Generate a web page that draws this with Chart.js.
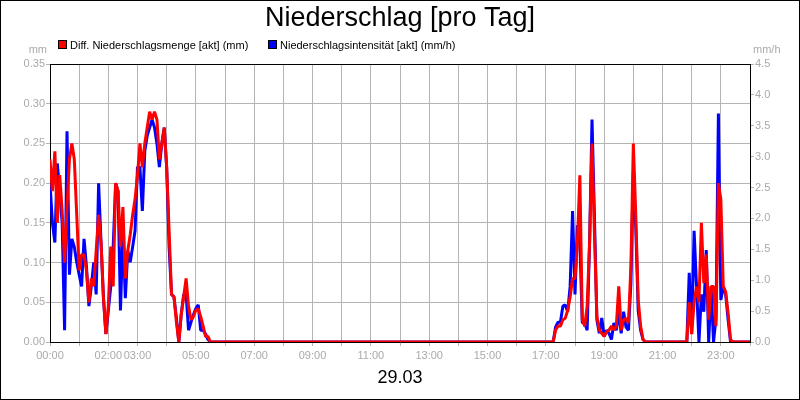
<!DOCTYPE html>
<html>
<head>
<meta charset="utf-8">
<script src="https://cdn.jsdelivr.net/npm/chart.js@4.4.0/dist/chart.umd.min.js"></script>
<style>
  html, body { margin: 0; padding: 0; background: #fff; }
  canvas { display: block; }
</style>
</head>
<body>
<canvas id="myChart" width="800" height="400"></canvas>
<script>
	// 5-Minuten-Werte, nur die Abschnitte mit Niederschlag (sonst 0)
	const stepMin = 5;
	const morningStart = 0;     // 00:00
	const eveningStart = 1035;  // 17:15
	const lateStart = 1310;     // 21:50
	const dayEnd = 1440;        // 24:00

	// Diff. Niederschlagsmenge (mm)
	const redMorning = [
		0.23, 0.19, 0.24, 0.15, 0.21, 0.165, 0.10, 0.17, 0.23, 0.25,
		0.23, 0.16, 0.09, 0.11, 0.11, 0.09, 0.05, 0.08, 0.07, 0.115,
		0.16, 0.125, 0.055, 0.01, 0.045, 0.12, 0.07, 0.20, 0.19, 0.12,
		0.17, 0.08, 0.115, 0.135, 0.16, 0.18, 0.21, 0.25, 0.22, 0.25,
		0.27, 0.29, 0.28, 0.29, 0.28, 0.23, 0.25, 0.27, 0.22, 0.14,
		0.06, 0.057, 0.025, 0, 0.035, 0.057, 0.08, 0.045, 0.028, 0.032,
		0.04, 0.042, 0.032, 0.02, 0.007, 0.007, 0
	];
	const redEvening = [
		0, 0.015, 0.02, 0.02, 0.028, 0.03, 0.04, 0.057, 0.08, 0.08,
		0.125, 0.21, 0.028, 0.02, 0.045, 0.125, 0.25, 0.137, 0.032, 0.015,
		0.011, 0.007, 0.013, 0.015, 0.02, 0.015, 0.02, 0.07, 0.015, 0.028,
		0.03, 0.024, 0.095, 0.25, 0.16, 0.053, 0.02, 0.003, 0
	];
	const redLate = [
		0, 0.05, 0.01, 0.05, 0.07, 0.05, 0.15, 0.074, 0.11, 0.028,
		0.07, 0.07, 0.02, 0.20, 0.18, 0.07, 0.063, 0.036, 0.003, 0
	];

	// Niederschlagsintensität (mm/h)
	const blueMorning = [
		2.57, 1.93, 1.61, 2.89, 2.44, 1.93, 0.19, 3.41, 1.09, 1.67,
		1.54, 1.29, 1.09, 0.90, 1.67, 1.22, 0.58, 0.90, 1.29, 0.77,
		2.57, 1.61, 0.71, 0.13, 0.51, 0.90, 1.54, 2.57, 2.44, 0.51,
		1.80, 0.71, 1.48, 1.29, 1.54, 1.80, 2.83, 2.83, 2.12, 3.09,
		3.34, 3.47, 3.60, 3.47, 3.21, 2.83, 3.21, 3.47, 2.83, 1.54,
		0.77, 0.73, 0.39, 0, 0.45, 0.77, 0.77, 0.19, 0.32, 0.44,
		0.54, 0.60, 0.19, 0.19, 0.13, 0.04, 0
	];
	const blueEvening = [
		0, 0.24, 0.32, 0.32, 0.58, 0.60, 0.49, 0.90, 2.12, 0.77,
		1.89, 1.61, 0.31, 0.31, 0.19, 1.61, 3.60, 2.03, 0.36, 0.14,
		0.39, 0.09, 0.19, 0.14, 0.04, 0.31, 0.19, 0.49, 0.14, 0.49,
		0.24, 0.19, 0.95, 2.76, 1.86, 0.51, 0.19, 0.04, 0
	];
	const blueLate = [
		0, 1.12, 0.13, 1.80, 0.90, 0, 0.77, 0.49, 1.49, 0,
		0.90, 0, 0.39, 3.70, 0.68, 0.90, 0.77, 0.36, 0, 0
	];

	// Stunden mit Beschriftung an der x-Achse
	const labelledHours = [0, 2, 3, 5, 7, 9, 11, 13, 15, 17, 19, 21, 23];
	const dateLabel = "29.03";
	const leftUnit = "mm";
	const rightUnit = "mm/h";

	const FONT = '"Liberation Sans", Arial, sans-serif';
	const GRID = '#b4b4b4';
	const TICK_TXT = '#aaaaaa';

	// Abschnitt -> Punkte {x: Minute, y: Wert}
	function toPoints(start, values) {
		return values.map((v, k) => ({ x: start + k * stepMin, y: v }));
	}
	const redData = [
		...toPoints(morningStart, redMorning),
		...toPoints(eveningStart, redEvening),
		...toPoints(lateStart, redLate),
		{ x: dayEnd, y: 0 }
	];
	const blueData = [
		...toPoints(morningStart, blueMorning),
		...toPoints(eveningStart, blueEvening),
		...toPoints(lateStart, blueLate),
		{ x: dayEnd, y: 0 }
	];

	// Rahmen, Einheiten, Legende
	const framePlugin = {
		id: 'frame',
		beforeDatasetsDraw(chart) {
			const { ctx, chartArea } = chart;
			ctx.save();
			ctx.strokeStyle = '#000';
			ctx.lineWidth = 1;
			ctx.beginPath();
			const y = Math.round(chartArea.top) + 0.5;
			ctx.moveTo(Math.round(chartArea.left), y);
			ctx.lineTo(Math.round(chartArea.right) + 1, y);
			ctx.stroke();
			ctx.restore();
		},
		afterDraw(chart) {
			const { ctx } = chart;
			ctx.save();
			// Einheiten
			ctx.font = '11px ' + FONT;
			ctx.fillStyle = TICK_TXT;
			ctx.textBaseline = 'alphabetic';
			ctx.textAlign = 'right';
			ctx.fillText(leftUnit, 47, 53);
			ctx.textAlign = 'left';
			ctx.fillText(rightUnit, 753, 53);
			// Legende
			const boxX = [58, 268];
			chart.data.datasets.forEach((ds, i) => {
				ctx.fillStyle = ds.borderColor;
				ctx.fillRect(boxX[i] + 0.5, 40.5, 8, 8);
				ctx.strokeStyle = '#000';
				ctx.lineWidth = 1;
				ctx.strokeRect(boxX[i] + 0.5, 40.5, 8, 8);
				ctx.fillStyle = '#000';
				ctx.textAlign = 'left';
				ctx.textBaseline = 'alphabetic';
				ctx.fillText(ds.label, boxX[i] + 12, 49);
			});
			// äußerer Rahmen
			ctx.strokeStyle = '#000';
			ctx.lineWidth = 1;
			ctx.strokeRect(0.5, 0.5, 799, 399);
			ctx.restore();
		}
	};

	const ctx = document.querySelector('#myChart');
	const nsChart = new Chart(ctx, {
		type: 'line',
		data: {
			datasets: [
				{
					label: 'Diff. Niederschlagsmenge [akt] (mm)',
					data: redData,
					borderColor: '#ff0000',
					backgroundColor: '#ff0000',
					borderWidth: 3,
					borderJoinStyle: 'bevel',
					pointRadius: 0,
					tension: 0,
					yAxisID: 'y'
				},
				{
					label: 'Niederschlagsintensität [akt] (mm/h)',
					data: blueData,
					borderColor: '#0000ff',
					backgroundColor: '#0000ff',
					borderWidth: 3,
					borderJoinStyle: 'bevel',
					pointRadius: 0,
					tension: 0,
					yAxisID: 'y1'
				}
			]
		},
		options: {
			responsive: false,
			animation: false,
			devicePixelRatio: 1,
			layout: { padding: 0 },
			plugins: {
				legend: { display: false },
				tooltip: { enabled: false },
				title: {
					display: true,
					text: 'Niederschlag [pro Tag]',
					color: '#000',
					font: { family: FONT, size: 27, weight: 'normal' },
					padding: { top: 2, bottom: 29.6 }
				}
			},
			scales: {
				x: {
					type: 'linear',
					min: 0,
					max: dayEnd,
					ticks: {
						stepSize: 60,
						autoSkip: false,
						maxRotation: 0,
						color: TICK_TXT,
						font: { family: FONT, size: 11 },
						padding: 3,
						callback: (v) => {
							const h = v / 60;
							if (!labelledHours.includes(h)) return '';
							return String(h).padStart(2, '0') + ':00';
						}
					},
					grid: { color: GRID, tickLength: 4 },
					border: { color: '#000', width: 1 },
					title: {
						display: true,
						text: dateLabel,
						color: '#000',
						font: { family: FONT, size: 18 },
						padding: { top: 0, bottom: 11 }
					},
					afterFit: (s) => { s.height = 58; }
				},
				y: {
					position: 'left',
					min: 0,
					max: 0.35,
					ticks: {
						stepSize: 0.05,
						color: TICK_TXT,
						font: { family: FONT, size: 11 },
						padding: 1,
						callback: (v) => v.toFixed(2)
					},
					grid: { color: GRID, tickLength: 4 },
					border: { color: '#000', width: 1 },
					afterFit: (s) => { s.width = 50; }
				},
				y1: {
					position: 'right',
					min: 0,
					max: 4.5,
					ticks: {
						stepSize: 0.5,
						color: TICK_TXT,
						font: { family: FONT, size: 11 },
						padding: 1,
						callback: (v) => v.toFixed(1)
					},
					grid: { color: GRID, tickLength: 4, drawOnChartArea: false },
					border: { color: '#000', width: 1 },
					afterFit: (s) => { s.width = 50; }
				}
			}
		},
		plugins: [framePlugin]
	});
</script>
</body>
</html>
